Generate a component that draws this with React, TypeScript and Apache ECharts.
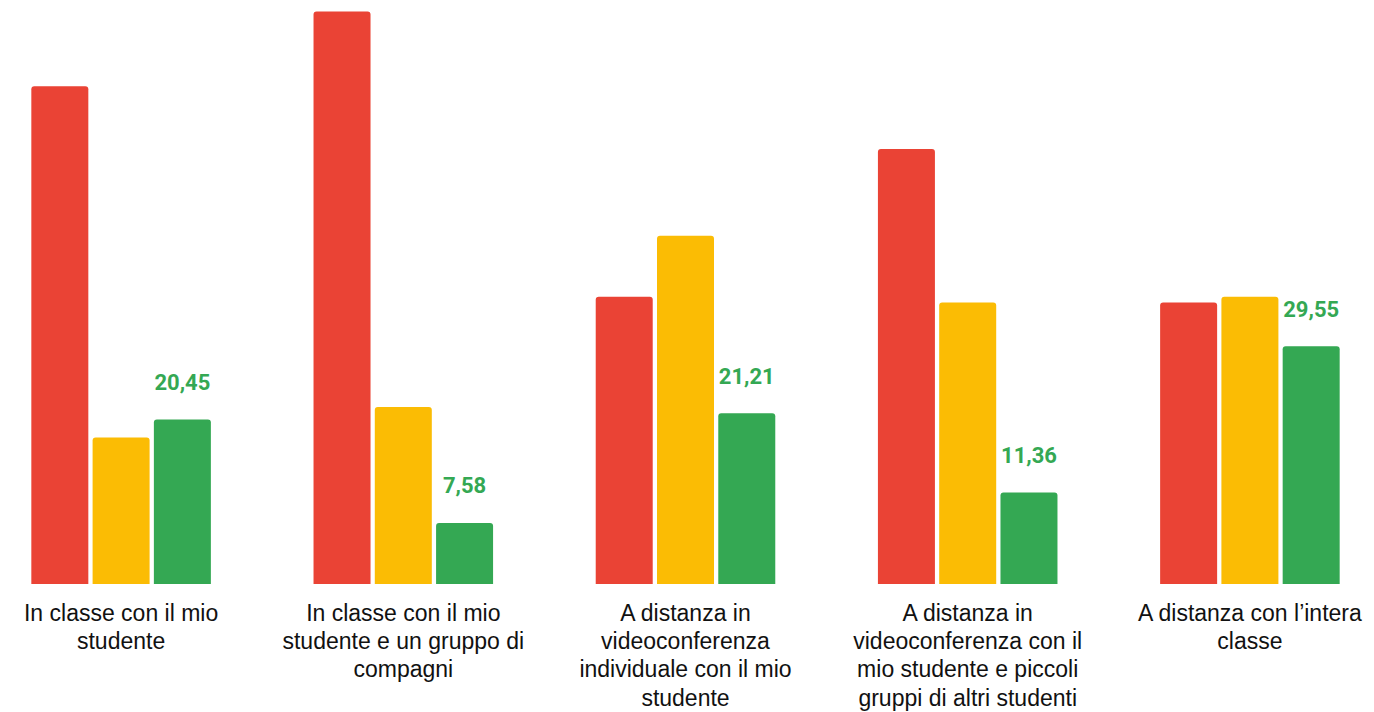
import React, { useEffect, useRef } from "react";
import * as echarts from "echarts";

const categories = [
  "In classe con il mio\nstudente",
  "In classe con il mio\nstudente e un gruppo di\ncompagni",
  "A distanza in\nvideoconferenza\nindividuale con il mio\nstudente",
  "A distanza in\nvideoconferenza con il\nmio studente e piccoli\ngruppi di altri studenti",
  "A distanza con l’intera\nclasse",
];

const redValues = [61.9, 71.2, 35.7, 54.1, 35.0];
const yellowValues = [18.2, 22.0, 43.3, 35.0, 35.7];
const greenValues = [20.45, 7.58, 21.21, 11.36, 29.55];

const RED = "#EA4335";
const YELLOW = "#FBBC04";
const GREEN = "#34A853";

export default function App() {
  const ref = useRef<HTMLDivElement>(null);

  useEffect(() => {
    if (!ref.current) return;
    const chart = echarts.init(ref.current, null, { renderer: "svg" });
    const barCommon = {
      type: "bar" as const,
      barWidth: 57,
      barGap: "7.5%",
    };
    chart.setOption({
      animation: false,
      backgroundColor: "#ffffff",
      grid: { left: 0, right: 0, top: 1, bottom: 124.5, containLabel: false },
      xAxis: {
        type: "category",
        data: categories,
        axisLine: { show: false },
        axisTick: { show: false },
        axisLabel: {
          interval: 0,
          margin: 14.5,
          color: "#111111",
          fontFamily: "'Liberation Sans', Arial, sans-serif",
          fontSize: 23,
          lineHeight: 28.4,
          align: "center",
        },
      },
      yAxis: {
        type: "value",
        min: 0,
        max: 72.5,
        show: false,
        splitLine: { show: false },
      },
      series: [
        {
          ...barCommon,
          name: "red",
          data: redValues,
          itemStyle: { color: RED, borderRadius: [3, 3, 0, 0] },
        },
        {
          ...barCommon,
          name: "yellow",
          data: yellowValues,
          itemStyle: { color: YELLOW, borderRadius: [3, 3, 0, 0] },
        },
        {
          ...barCommon,
          name: "green",
          data: greenValues,
          itemStyle: { color: GREEN, borderRadius: [3, 3, 0, 0] },
          label: {
            show: true,
            position: "top",
            distance: 26,
            color: GREEN,
            fontFamily: "Roboto",
            fontWeight: "bold",
            fontSize: 22,
            formatter: (p: any) => String(p.value.toFixed(2)).replace(".", ","),
          },
        },
      ],
    });
    return () => chart.dispose();
  }, []);

  return (
    <div
      style={{
        position: "absolute",
        left: 0,
        top: 0,
        width: 1374,
        height: 712,
        overflow: "hidden",
        background: "#ffffff",
      }}
    >
      <div
        ref={ref}
        style={{ position: "absolute", left: -20, top: 0, width: 1411, height: 712 }}
      />
    </div>
  );
}
